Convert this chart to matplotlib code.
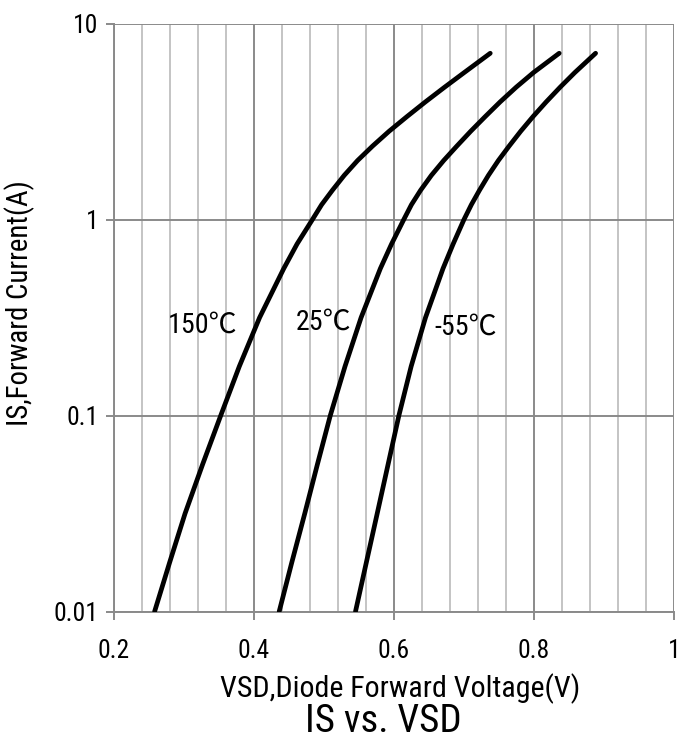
import matplotlib
matplotlib.use("Agg")
import matplotlib.pyplot as plt
from matplotlib import font_manager
from matplotlib.ticker import FixedLocator, NullFormatter

available = {f.name for f in font_manager.fontManager.ttflist}
narrow_candidates = ['Liberation Sans Narrow', 'Arial Narrow', 'Roboto Condensed',
                     'Open Sans Condensed', 'DejaVu Sans Condensed']
narrow = [n for n in narrow_candidates if n in available]
BASE = narrow[0] if narrow else 'Liberation Sans'
FONT = [BASE, 'Liberation Sans', 'Noto Sans CJK SC', 'DejaVu Sans']
plt.rcParams['font.family'] = FONT
k = 1.12 if narrow else 1.0   # narrow fonts can be set taller for the same width

# Data (forward current in A vs. diode forward voltage in V)
is_levels = [0.01, 0.0178, 0.0316, 0.0562, 0.1, 0.178, 0.316, 0.562, 0.75, 1.0, 1.19,
             1.41, 1.68, 2.0, 2.37, 2.82, 3.35, 3.98, 4.73, 5.62, 7.05]

vsd_150 = [0.258, 0.2795, 0.3015, 0.3265, 0.3525, 0.379, 0.408, 0.4425, 0.4615, 0.4835,
           0.4966, 0.512, 0.5289, 0.548, 0.5694, 0.593, 0.6185, 0.6448, 0.6722, 0.7003,
           0.7375]
is_150 = is_levels

vsd_25 = [0.436, 0.454, 0.4725, 0.4905, 0.509, 0.530, 0.553, 0.5805, 0.5965, 0.614,
          0.6249, 0.638, 0.6534, 0.671, 0.6898, 0.7096, 0.7303, 0.7516, 0.7745, 0.7993,
          0.8360]
is_25 = is_levels

vsd_m55 = [0.545, 0.5605, 0.576, 0.5915, 0.607, 0.6245, 0.645, 0.670, 0.6845, 0.700,
           0.7105, 0.7221, 0.7349, 0.7491, 0.7645, 0.781, 0.7986, 0.8174, 0.8373, 0.8583,
           0.8880]
is_m55 = is_levels

labels = ['150℃', '25℃', '-55℃']
label_vsd = [0.326, 0.499, 0.703]
label_is = [0.29, 0.30, 0.283]

x_ticks = [0.2, 0.4, 0.6, 0.8, 1.0]
x_ticklabels = ['0.2', '0.4', '0.6', '0.8', '1']
y_ticks = [0.01, 0.1, 1, 10]
y_ticklabels = ['0.01', '0.1', '1', '10']
minor_x = [0.24, 0.28, 0.32, 0.36, 0.44, 0.48, 0.52, 0.56, 0.64, 0.68, 0.72, 0.76,
           0.84, 0.88, 0.92, 0.96]

fig = plt.figure(figsize=(6.79, 7.38), dpi=100)
ax = fig.add_axes([114/679, (738-611.5)/738, (674-114)/679, (611.5-23.5)/738])

ax.set_yscale('log')
ax.set_xlim(0.2, 1.0)
ax.set_ylim(0.01, 10)

MAJOR = '#8a8a8a'
MINOR = '#c4c4c4'
for xv in minor_x:
    ax.axvline(xv, color=MINOR, lw=1.4, zorder=1)
for xv in x_ticks:
    ax.axvline(xv, color=MAJOR, lw=1.4, zorder=1)
for yv in y_ticks:
    ax.axhline(yv, color=MAJOR, lw=1.4, zorder=1)

for xs, ys in [(vsd_150, is_150), (vsd_25, is_25), (vsd_m55, is_m55)]:
    ax.plot(xs, ys, color='black', lw=3.4, solid_capstyle='round',
            solid_joinstyle='round', zorder=3)

for t, xv, yv in zip(labels, label_vsd, label_is):
    ax.text(xv, yv, t, fontsize=18*k, ha='center', va='center', zorder=4)

ax.xaxis.set_major_locator(FixedLocator(x_ticks))
ax.set_xticklabels(x_ticklabels)
ax.yaxis.set_major_locator(FixedLocator(y_ticks))
ax.yaxis.set_minor_locator(FixedLocator([]))
ax.yaxis.set_minor_formatter(NullFormatter())
ax.set_yticklabels(y_ticklabels)

ax.tick_params(axis='both', which='major', direction='out', length=6, width=1.4,
               color=MAJOR, labelsize=16.5*k)
ax.tick_params(axis='x', pad=14)
ax.tick_params(axis='y', pad=5)
for s in ['top', 'right']:
    ax.spines[s].set_visible(False)
for s in ['left', 'bottom']:
    ax.spines[s].set_color(MAJOR)
    ax.spines[s].set_linewidth(1.4)

fig.text(400/679, 1-689/738, 'VSD,Diode Forward Voltage(V)', fontsize=19.3*k,
         ha='center', va='center')
fig.text(383/679, 1-721/738, 'IS vs. VSD', fontsize=25*k, ha='center', va='center')
fig.text(20/679, 1-303/738, 'IS,Forward Current(A)', fontsize=18.5*k,
         ha='center', va='center', rotation=90)

fig.savefig('out.png', dpi=100)
